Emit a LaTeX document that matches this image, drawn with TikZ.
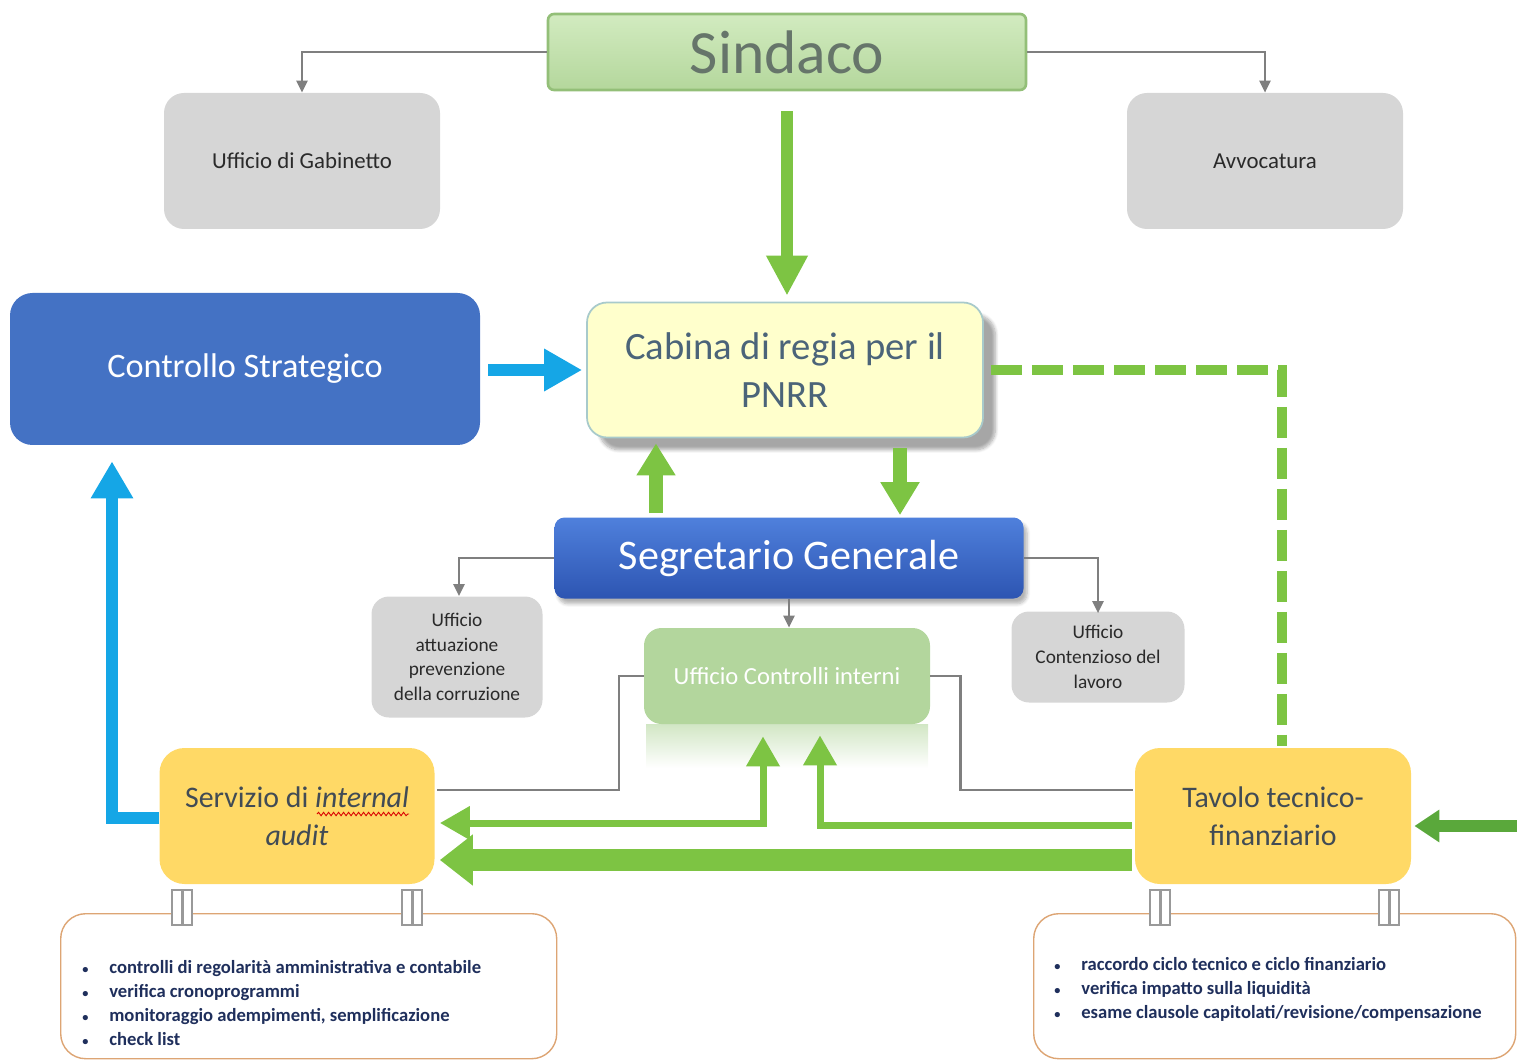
\documentclass[tikz,border=0pt]{standalone}
\usepackage{fontspec}
\setmainfont{Carlito}
\usetikzlibrary{arrows.meta,calc,shadows.blur,decorations.pathmorphing}

\definecolor{sindtop}{HTML}{D2EBC0}
\definecolor{sindbot}{HTML}{B4D79C}
\definecolor{sindline}{HTML}{93BF78}
\definecolor{sindtext}{HTML}{66756A}
\definecolor{boxgray}{HTML}{D6D6D6}
\definecolor{textgray}{HTML}{2A2A2A}
\definecolor{strblue}{HTML}{4472C4}
\definecolor{cyanarr}{HTML}{15A6E6}
\definecolor{cabfill}{HTML}{FFFFCC}
\definecolor{cabline}{HTML}{A8CACB}
\definecolor{cabtext}{HTML}{4B6479}
\definecolor{arrgreen}{HTML}{7DC443}
\definecolor{darkgreen}{HTML}{5AA83B}
\definecolor{segtop}{HTML}{4F80DC}
\definecolor{segbot}{HTML}{2D55B2}
\definecolor{ctrlfill}{HTML}{B3D69D}
\definecolor{yelfill}{HTML}{FFD966}
\definecolor{yeltext}{HTML}{414B55}
\definecolor{notebord}{HTML}{DDA574}
\definecolor{navytext}{HTML}{1F2F5C}
\definecolor{conn}{HTML}{7F7F7F}

\newcommand\pxu{0.02cm}
\newcommand\blt{\makebox[0.54cm][l]{\fontsize{7}{8}\selectfont •}}

\begin{document}
\begin{tikzpicture}[x=0.02cm,y=-0.02cm,
  box/.style={rectangle, align=center, inner sep=2pt},
  graybox/.style={box, fill=boxgray, rounded corners=0.4cm, text=textgray},
  yelbox/.style={box, fill=yelfill, rounded corners=0.5cm, text=yeltext,
     font=\fontsize{17}{21.6}\selectfont},
  notebox/.style={rectangle, draw=notebord, line width=0.8pt, fill=white, rounded corners=0.5cm},
  bullets/.style={inner sep=0pt, align=left, text=navytext,
     font=\fontsize{10.6}{13.7}\selectfont\bfseries},
  thin/.style={draw=conn, line width=1.3pt},
  thinarr/.style={thin, -{Triangle[width=0.22cm,length=0.24cm]}},
  greenarr/.style={draw=arrgreen, line cap=butt},
  cliprect/.style={draw=conn!80, fill=white, line width=0.6pt}
]
\useasboundingbox (0,0) rectangle (1517,1060);
\clip (0,0) rectangle (1517,1060);

% ---------------- nodes ----------------
\node[box, rounded corners=0.12cm, top color=sindtop, bottom color=sindbot,
      draw=sindline, line width=1.5pt, minimum width=478*\pxu, minimum height=76*\pxu,
      text=sindtext, font=\fontsize{35}{40}\selectfont] (sind) at (787,52) {Sindaco};

\node[graybox, minimum width=276*\pxu, minimum height=136*\pxu,
      font=\fontsize{13}{16}\selectfont] (gab) at (302,161) {Ufficio di Gabinetto};
\node[graybox, minimum width=276*\pxu, minimum height=136*\pxu,
      font=\fontsize{13}{16}\selectfont] (avv) at (1265,161) {Avvocatura};

\node[box, fill=strblue, rounded corners=0.45cm, minimum width=470*\pxu,
      minimum height=152*\pxu, text=white, font=\fontsize{19.5}{24}\selectfont]
      (strat) at (245,369) {Controllo Strategico};

\node[box, fill=cabfill, draw=cabline, line width=1pt, rounded corners=0.4cm,
      minimum width=396*\pxu, minimum height=135*\pxu, text=cabtext,
      font=\fontsize{22}{27}\selectfont,
      blur shadow={shadow xshift=7pt, shadow yshift=-7pt, shadow opacity=35, shadow blur steps=8}]
      (cab) at (785,370) {Cabina di regia per il\\PNRR};

\node[box, top color=segtop, bottom color=segbot, rounded corners=0.2cm,
      minimum width=469*\pxu, minimum height=81*\pxu, text=white,
      font=\fontsize{24}{28}\selectfont,
      blur shadow={shadow xshift=2pt, shadow yshift=-3pt, shadow opacity=30, shadow blur steps=6}]
      (seg) at (789,558) {Segretario Generale};

\node[graybox, rounded corners=0.35cm, minimum width=171*\pxu, minimum height=121*\pxu,
      font=\fontsize{11}{14}\selectfont] (att) at (457,657)
      {Ufficio\\attuazione\\prevenzione\\della corruzione};
\node[graybox, rounded corners=0.35cm, minimum width=173*\pxu, minimum height=91*\pxu,
      font=\fontsize{11}{14.2}\selectfont] (cont) at (1098,657)
      {Ufficio\\Contenzioso del\\lavoro};

% reflection of the Controlli interni box
\fill[top color=ctrlfill!60, bottom color=white] (646,724) rectangle (928,768);

\node[box, fill=ctrlfill, rounded corners=0.35cm, minimum width=286*\pxu,
      minimum height=96*\pxu, text=white, font=\fontsize{14}{17}\selectfont]
      (ctrl) at (787,676) {Ufficio Controlli interni};

\node[yelbox, minimum width=275*\pxu, minimum height=136*\pxu] (serv) at (297,816)
      {Servizio di \textit{internal}\\\textit{audit}};
\node[yelbox, minimum width=276*\pxu, minimum height=136*\pxu] (tav) at (1273,816)
      {Tavolo tecnico-\\finanziario};

\draw[red!85!black, line width=0.5pt, decorate,
      decoration={snake, amplitude=0.35mm, segment length=1mm}] (317,814) -- (409,814);

\node[notebox, anchor=north west, minimum width=496*\pxu, minimum height=145*\pxu] (notel) at (60,913) {};
\node[notebox, anchor=north west, minimum width=482*\pxu, minimum height=145*\pxu] (noter) at (1033,913) {};

\node[bullets, anchor=north west] (bl) at (82,960)
  {\blt controlli di regolarità amministrativa e contabile\\
   \blt verifica cronoprogrammi\\
   \blt monitoraggio adempimenti, semplificazione\\
   \blt check list};
\node[bullets, anchor=north west] (br) at (1054,957)
  {\blt raccordo ciclo tecnico e ciclo finanziario\\
   \blt verifica impatto sulla liquidità\\
   \blt esame clausole capitolati/revisione/compensazione};

% clips joining boxes and notes
\foreach \cx in {182,412,1160,1389} {
  \draw[cliprect] (\cx-10,890) rectangle (\cx,925);
  \draw[cliprect] (\cx+1,890) rectangle (\cx+10,925);
}

% ---------------- helper coordinates ----------------
\coordinate (xup) at (656,0);
\coordinate (xdown) at (900,0);
\coordinate (xdash) at (1282,0);
\coordinate (xblue) at (112,0);
\coordinate (xa) at (763,0);
\coordinate (xb) at (820,0);
\coordinate (edge) at (1517,826);

% ---------------- thin grey connectors ----------------
\draw[thinarr] (sind.west) -| (gab.north);
\draw[thinarr] (sind.east) -| (avv.north);
\draw[thinarr] (seg.west) -| ($(att.north)+(2,0)$);
\draw[thinarr] (seg.east) -| ($(cont.north)+(0,2)$);
\draw[thinarr] (seg.south) -- (seg.south |- ctrl.north);
\draw[thin] (ctrl.west) -- ++(-25,0) |- ($(serv.east)+(2,-26)$);
\draw[thin] (ctrl.east) -- ++(30,0) |- ($(tav.west)+(-2,-26)$);

% ---------------- green / blue arrows ----------------
\draw[greenarr, line width=0.24cm, -{Triangle[width=0.78cm,length=0.8cm]}]
  ($(sind.south)+(0,20)$) -- ($(cab.north -| sind.south)+(0,-6)$);

\draw[draw=cyanarr, line width=0.24cm, -{Triangle[width=0.8cm,length=0.76cm]}]
  ($(strat.east)+(8,1)$) -- ($(cab.west)+(-4,0)$);

\draw[greenarr, line width=0.28cm, -{Triangle[width=0.74cm,length=0.64cm]}]
  ($(seg.north -| xup)+(0,-4)$) -- ($(cab.south -| xup)+(0,5)$);
\draw[greenarr, line width=0.28cm, -{Triangle[width=0.74cm,length=0.66cm]}]
  ($(cab.south -| xdown)+(0,10)$) -- ($(seg.north -| xdown)+(0,-2)$);

\draw[greenarr, line width=0.2cm, dash pattern=on 0.62cm off 0.2cm]
  ($(cab.east)+(7,0)$) -| ($(tav.north -| xdash)+(0,-2)$);

\draw[draw=cyanarr, line width=0.24cm, -{Triangle[width=0.8cm,length=0.74cm]}]
  ($(serv.west)+(0,2)$) -| ($(strat.south -| xblue)+(0,16)$);

\draw[greenarr, line width=0.14cm, {Triangle[width=0.64cm,length=0.6cm]}-{Triangle[width=0.64cm,length=0.6cm]}]
  ($(ctrl.south -| xa)+(0,12)$) |- ($(serv.east)+(5,7)$);

\draw[greenarr, line width=0.14cm, -{Triangle[width=0.64cm,length=0.6cm]}]
  ($(tav.west)+(-3,9)$) -| ($(ctrl.south -| xb)+(0,11)$);

\draw[greenarr, line width=0.44cm, -{Triangle[width=0.98cm,length=0.66cm]}]
  ($(tav.west)+(-3,44)$) -- ($(serv.east)+(5,44)$);

\draw[draw=darkgreen, line width=0.24cm, -{Triangle[width=0.62cm,length=0.5cm]}]
  (edge) -- ($(tav.east)+(3,10)$);

\end{tikzpicture}
\end{document}
